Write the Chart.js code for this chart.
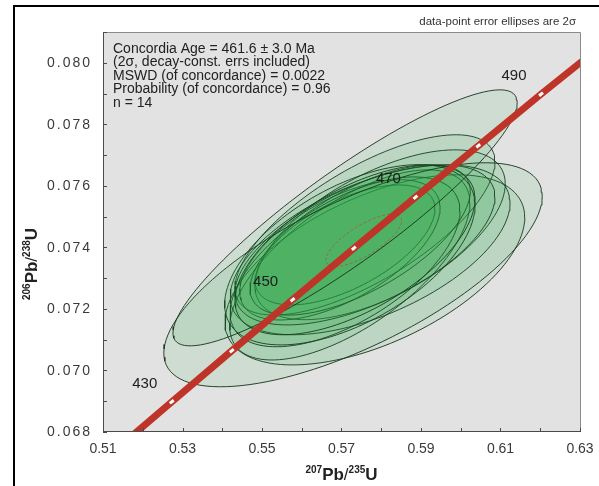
<!DOCTYPE html>
<html>
<head>
<meta charset="utf-8">
<script src="https://cdn.jsdelivr.net/npm/chart.js@4.4.1/dist/chart.umd.min.js"></script>
<style>
  html, body { margin: 0; padding: 0; background: #fff; }
  #wrap { width: 599px; height: 486px; }
</style>
</head>
<body>
<div id="wrap"><canvas id="c" width="599" height="486"></canvas></div>
<script>
// Concordia curve (207Pb/235U, 206Pb/238U) at 10 Ma steps
const concAges = [420, 430, 440, 450, 460, 470, 480, 490, 500];
const concX = [0.5123, 0.5273, 0.5424, 0.5577, 0.5731, 0.5886, 0.6044, 0.6202, 0.6363];
const concY = [0.06732, 0.06898, 0.07064, 0.07230, 0.07397, 0.07563, 0.07730, 0.07898, 0.08065];
const markedAges = [430, 440, 450, 460, 470, 480, 490];
const labelledAges = [430, 450, 470, 490];

// Spot analyses: centre, 2-sigma half-widths and error correlation
const spotX   = [0.5709, 0.5729, 0.5734, 0.5721, 0.5759, 0.5709, 0.5747, 0.5772, 0.5696, 0.5721, 0.5797, 0.5709, 0.5759, 0.5784];
const spotY   = [0.07496, 0.07311, 0.07392, 0.07376, 0.07408, 0.07353, 0.07424, 0.07392, 0.07392, 0.07343, 0.07441, 0.07408, 0.07473, 0.07327];
const spotSX  = [0.0433, 0.0476, 0.0302, 0.0315, 0.0327, 0.0289, 0.0277, 0.0352, 0.0252, 0.0302, 0.0315, 0.0226, 0.0327, 0.0377];
const spotSY  = [0.00416, 0.00364, 0.00276, 0.00293, 0.00260, 0.00276, 0.00244, 0.00276, 0.00228, 0.00309, 0.00276, 0.00195, 0.00293, 0.00309];
const spotRho = [0.90, 0.70, 0.60, 0.55, 0.60, 0.60, 0.65, 0.55, 0.60, 0.65, 0.60, 0.60, 0.70, 0.55];

// Concordia age ellipse (461.6 Ma)
const ageEllX = [0.5756];
const ageEllY = [0.07423];
const ageEllSX = [0.0095];
const ageEllSY = [0.00085];
const ageEllRho = [0.75];

// Axis tick labels
const xTickLabels = ['0.51', '0.53', '0.55', '0.57', '0.59', '0.61', '0.63'];
const yTickLabels = ['0.068', '0.070', '0.072', '0.074', '0.076', '0.078', '0.080'];

const infoLines = [
  'Concordia Age = 461.6 \u00B1 3.0 Ma',
  '(2\u03C3, decay-const. errs included)',
  'MSWD (of concordance) = 0.0022',
  'Probability (of concordance) = 0.96',
  'n = 14'
];
const captionText = 'data-point error ellipses are 2\u03C3';

const FONT = '"Liberation Sans", Arial, sans-serif';

// outline of a correlated error ellipse
function ellipseOutline(cx, cy, sx, sy, rho, n) {
  const pts = [];
  const k = Math.sqrt(1 - rho * rho);
  for (let i = 0; i <= n; i++) {
    const t = 2 * Math.PI * i / n;
    pts.push({ x: cx + sx * Math.cos(t), y: cy + sy * (rho * Math.cos(t) + k * Math.sin(t)) });
  }
  return pts;
}

const datasets = [];

// white age ticks on the concordia
datasets.push({
  data: markedAges.map(a => { const i = concAges.indexOf(a); return { x: concX[i], y: concY[i] }; }),
  showLine: false,
  pointStyle: 'line',
  pointRotation: -40,
  pointRadius: 2.5,
  pointBorderWidth: 3,
  pointBorderColor: '#ffffff',
  pointBackgroundColor: '#ffffff',
  clip: false
});

// concordia curve
datasets.push({
  data: concAges.map((a, i) => ({ x: concX[i], y: concY[i] })),
  borderColor: '#bf3429',
  borderWidth: 7,
  borderCapStyle: 'butt',
  pointRadius: 0,
  fill: false,
  clip: 0
});

// concordia age ellipse
ageEllX.forEach((cx, i) => {
  datasets.push({
    data: ellipseOutline(cx, ageEllY[i], ageEllSX[i], ageEllSY[i], ageEllRho[i], 90),
    borderColor: 'rgba(200,60,40,0.6)',
    borderWidth: 1,
    borderDash: [3, 2],
    pointRadius: 0,
    fill: false
  });
});

// spot ellipses
spotX.forEach((cx, i) => {
  datasets.push({
    data: ellipseOutline(cx, spotY[i], spotSX[i], spotSY[i], spotRho[i], 120),
    borderColor: 'rgba(22,50,28,0.9)',
    borderWidth: 1,
    backgroundColor: 'rgba(40,165,70,0.10)',
    fill: 'shape',
    pointRadius: 0
  });
});

const decor = {
  id: 'decor',
  beforeDraw(chart) {
    const { ctx, chartArea: a } = chart;
    ctx.save();
    ctx.fillStyle = '#ffffff';
    ctx.fillRect(0, 0, chart.width, chart.height);
    // outer frame
    ctx.strokeStyle = '#000';
    ctx.lineWidth = 2;
    ctx.beginPath();
    ctx.moveTo(14, chart.height);
    ctx.lineTo(14, 6);
    ctx.lineTo(chart.width, 6);
    ctx.stroke();
    // plot background
    ctx.fillStyle = '#e2e2e2';
    ctx.fillRect(a.left, a.top, a.right - a.left, a.bottom - a.top);
    ctx.restore();
  },
  afterDatasetsDraw(chart) {
    const { ctx, chartArea: a, scales } = chart;
    const xs = scales.x, ys = scales.y;
    ctx.save();

    // plot frame
    ctx.lineWidth = 1;
    ctx.strokeStyle = '#8a8a8a';
    ctx.beginPath();
    ctx.moveTo(a.left, a.top + 0.5);
    ctx.lineTo(a.right + 0.5, a.top + 0.5);
    ctx.lineTo(a.right + 0.5, a.bottom);
    ctx.stroke();
    ctx.strokeStyle = '#4a4a4a';
    ctx.beginPath();
    ctx.moveTo(a.left + 0.5, a.top);
    ctx.lineTo(a.left + 0.5, a.bottom - 0.5);
    ctx.lineTo(a.right + 0.5, a.bottom - 0.5);
    ctx.stroke();

    // inward tick marks
    ctx.strokeStyle = '#4a4a4a';
    ctx.beginPath();
    xs.ticks.forEach(t => {
      const px = Math.round(xs.getPixelForValue(t.value)) + 0.5;
      ctx.moveTo(px, a.bottom);
      ctx.lineTo(px, a.bottom - 4);
    });
    ys.ticks.forEach(t => {
      const py = Math.round(ys.getPixelForValue(t.value)) + 0.5;
      ctx.moveTo(a.left, py);
      ctx.lineTo(a.left + 4, py);
    });
    ctx.stroke();

    // y tick labels
    ctx.fillStyle = '#3a3a3a';
    ctx.font = '14px ' + FONT;
    ctx.textAlign = 'right';
    ctx.textBaseline = 'middle';
    ctx.letterSpacing = '2px';
    yTickLabels.forEach(l => {
      ctx.fillText(l, 92, ys.getPixelForValue(parseFloat(l)) + 0.5);
    });
    ctx.letterSpacing = '0px';

    // age labels along the concordia
    ctx.fillStyle = '#1c1c1c';
    ctx.font = '15px ' + FONT;
    ctx.textAlign = 'center';
    ctx.textBaseline = 'middle';
    labelledAges.forEach(age => {
      const i = concAges.indexOf(age);
      const px = xs.getPixelForValue(concX[i]);
      const py = ys.getPixelForValue(concY[i]);
      ctx.fillText(String(age), px - 27, py - 18);
    });

    // result box text
    ctx.fillStyle = '#222';
    ctx.font = '14px ' + FONT;
    ctx.textAlign = 'left';
    ctx.textBaseline = 'alphabetic';
    infoLines.forEach((l, i) => ctx.fillText(l, a.left + 10, 53 + i * 13.4));

    // caption above the plot
    ctx.fillStyle = '#333';
    ctx.font = '11.5px ' + FONT;
    ctx.textAlign = 'right';
    ctx.fillText(captionText, a.right - 4, 25);

    // axis titles
    const drawIso = (parts, cx, baseY) => {
      const big = 'bold 17px ' + FONT, small = 'bold 10px ' + FONT, slash = '17px ' + FONT;
      let w = 0;
      parts.forEach(p => { ctx.font = p.sup ? small : (p.t === '/' ? slash : big); p.w = ctx.measureText(p.t).width; w += p.w; });
      let x = cx - w / 2;
      ctx.textAlign = 'left';
      ctx.textBaseline = 'alphabetic';
      parts.forEach(p => {
        ctx.font = p.sup ? small : (p.t === '/' ? slash : big);
        ctx.fillText(p.t, x, p.sup ? baseY - 7 : baseY);
        x += p.w;
      });
    };
    ctx.fillStyle = '#222';
    drawIso([{ t: '207', sup: true }, { t: 'Pb' }, { t: '/' }, { t: '235', sup: true }, { t: 'U' }], (a.left + a.right) / 2, 480);
    ctx.save();
    ctx.translate(37, 264);
    ctx.rotate(-Math.PI / 2);
    drawIso([{ t: '206', sup: true }, { t: 'Pb' }, { t: '/' }, { t: '238', sup: true }, { t: 'U' }], 0, 0);
    ctx.restore();

    ctx.restore();
  }
};

new Chart(document.getElementById('c'), {
  type: 'line',
  data: { datasets },
  options: {
    responsive: false,
    animation: false,
    devicePixelRatio: 1,
    layout: { padding: { top: 32, right: 19, left: 0, bottom: 0 } },
    plugins: { legend: { display: false }, tooltip: { enabled: false } },
    elements: { line: { tension: 0 } },
    scales: {
      x: {
        type: 'linear', min: 0.51, max: 0.63,
        afterFit(s) { s.height = 54; s.paddingLeft = 0; s.paddingRight = 0; },
        grid: { drawOnChartArea: false, drawTicks: false },
        border: { display: false },
        ticks: {
          stepSize: 0.01, autoSkip: false, maxRotation: 0, padding: 9,
          color: '#3a3a3a',
          font: { family: FONT, size: 14 },
          callback: v => { const l = v.toFixed(2); return xTickLabels.includes(l) ? l : ''; }
        }
      },
      y: {
        type: 'linear', min: 0.068, max: 0.081,
        afterFit(s) { s.width = 103; s.paddingTop = 0; s.paddingBottom = 0; },
        grid: { drawOnChartArea: false, drawTicks: false },
        border: { display: false },
        ticks: {
          stepSize: 0.001, autoSkip: false,
          color: 'rgba(0,0,0,0)',
          font: { family: FONT, size: 14 },
          callback: v => ''
        }
      }
    }
  },
  plugins: [decor]
});
</script>
</body>
</html>
